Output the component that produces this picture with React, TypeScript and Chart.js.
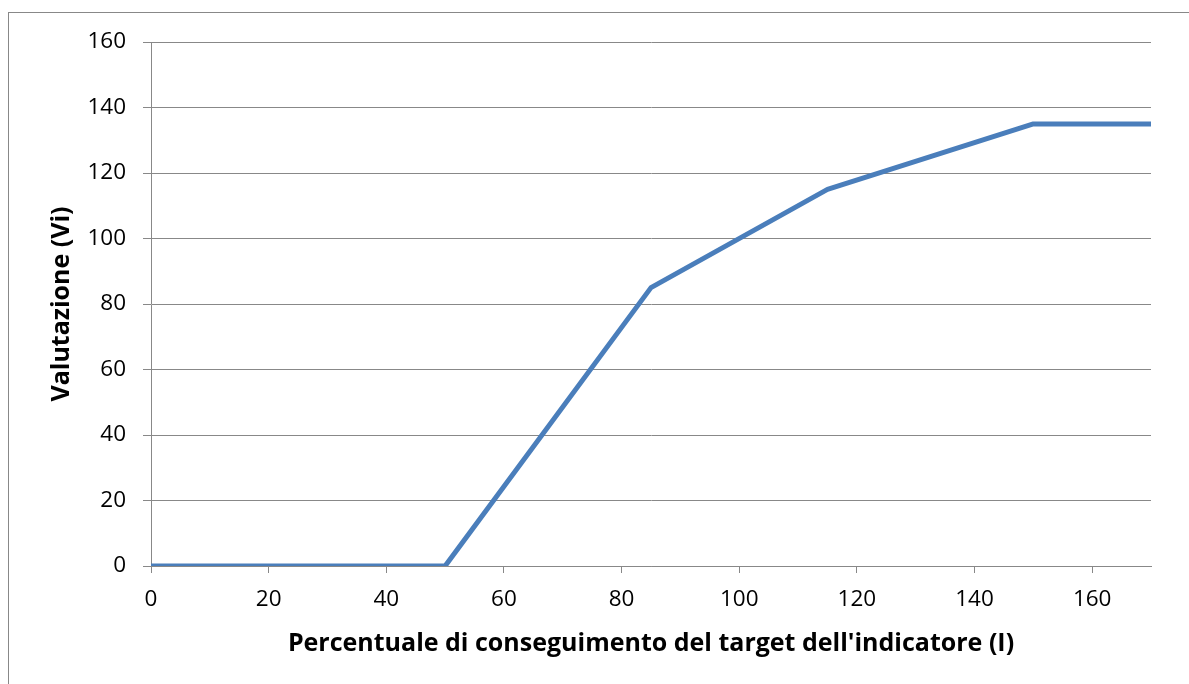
import React, { useEffect, useRef } from "react";
import { Chart, registerables } from "chart.js";

Chart.register(...registerables);

const xValues = [0, 50, 85, 115, 150, 170];
const yValues = [0, 0, 85, 115, 135, 135];
const xTitle = "Percentuale di conseguimento del target dell'indicatore (I)";
const yTitle = "Valutazione (Vi)";

export default function App() {
  const ref = useRef<HTMLCanvasElement | null>(null);
  useEffect(() => {
    if (!ref.current) return;
    const font = "'Open Sans', 'DejaVu Sans', sans-serif";
    const chart = new Chart(ref.current, {
      type: "line",
      data: {
        datasets: [
          {
            data: xValues.map((x, i) => ({ x, y: yValues[i] })),
            borderColor: "#4a7ebb",
            borderWidth: 5,
            pointRadius: 0,
            tension: 0,
            borderCapStyle: "round",
            borderJoinStyle: "round",
          },
        ],
      },
      options: {
        animation: false,
        responsive: false,
        layout: { padding: { top: 42, right: 38, left: 0, bottom: 0 } },
        plugins: { legend: { display: false }, tooltip: { enabled: false } },
        scales: {
          x: {
            type: "linear",
            min: 0,
            max: 170,
            afterFit: (s: any) => {
              s.height = 118;
            },
            ticks: {
              stepSize: 20,
              includeBounds: false,
              color: "#000",
              padding: 13,
              font: { family: font, size: 22.5 },
            },
            grid: {
              drawOnChartArea: false,
              drawTicks: true,
              tickLength: 7,
              color: "#888",
              lineWidth: 1,
            },
            border: { display: true, color: "#888", width: 1 },
            title: {
              display: true,
              text: xTitle,
              color: "#000",
              font: { family: font, size: 25, weight: "bold" },
              padding: { top: 25, bottom: 25 },
            },
          },
          y: {
            type: "linear",
            min: 0,
            max: 160,
            afterFit: (s: any) => {
              s.width = 151;
            },
            ticks: {
              stepSize: 20,
              color: "#000",
              padding: 17,
              font: { family: font, size: 22.5 },
            },
            grid: {
              drawTicks: true,
              tickLength: 8,
              color: "#888",
              lineWidth: 1,
            },
            border: { display: true, color: "#888", width: 1 },
            title: {
              display: true,
              text: yTitle,
              color: "#000",
              font: { family: font, size: 25, weight: "bold" },
              padding: { top: 47, bottom: 47 },
            },
          },
        },
      },
    });
    return () => chart.destroy();
  }, []);
  return (
    <div style={{ position: "fixed", left: 0, top: 0, width: 1189, height: 684, background: "#fff" }}>
      <div
        style={{
          position: "absolute",
          left: 8,
          top: 12,
          width: 1300,
          height: 800,
          border: "1px solid #888",
          boxSizing: "border-box",
        }}
      />
      <canvas ref={ref} width={1189} height={684} style={{ position: "absolute", left: 0, top: 0 }} />
    </div>
  );
}
